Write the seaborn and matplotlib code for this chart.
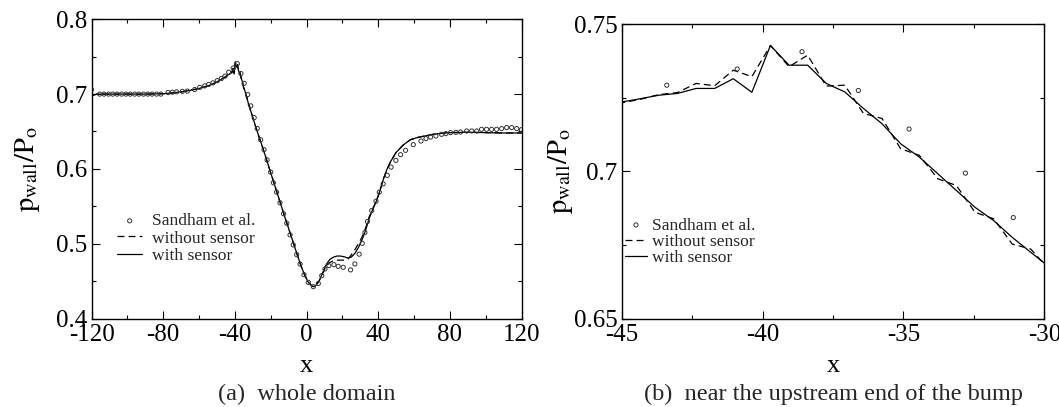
import matplotlib
matplotlib.use("Agg")
import matplotlib.pyplot as plt
import seaborn as sns
from matplotlib.ticker import MultipleLocator, FuncFormatter

# ---------------- data ----------------
# Sandham et al. reference points
sandham_x = [-120.0, -115.4, -113.0, -110.5, -108.1, -105.7, -103.2, -100.8, -98.4, -95.9,
             -93.5, -91.0, -88.6, -86.2, -83.7, -81.3, -77.3, -74.9, -72.5, -69.3,
             -66.5, -62.4, -59.6, -56.8, -54.6, -52.2, -49.8, -47.5, -45.5, -43.4,
             -40.9, -38.6, -36.6, -34.8, -32.8, -31.1, -29.2, -27.5, -25.6, -23.7,
             -22.0, -20.0, -18.5, -16.7, -14.8, -12.8, -11.0, -9.2, -7.4, -5.5,
             -3.6, -1.4, 1.0, 3.8, 6.6, 8.5, 10.3, 12.5, 15.3, 17.7,
             20.5, 24.6, 27.0, 29.4, 31.1, 32.6, 34.0, 36.4, 38.8, 40.6,
             42.8, 45.1, 47.2, 49.9, 52.5, 55.3, 59.6, 63.9, 66.7, 69.3,
             72.2, 75.4, 77.8, 80.4, 83.4, 86.0, 89.4, 92.2, 95.0, 97.7,
             100.5, 103.3, 106.1, 108.9, 111.7, 114.5, 117.3, 120.0]
sandham_y = [0.706, 0.700, 0.700, 0.700, 0.700, 0.700, 0.700, 0.700, 0.700, 0.700,
             0.700, 0.700, 0.700, 0.700, 0.700, 0.700, 0.7021, 0.7025, 0.7030, 0.7037,
             0.7040, 0.7061, 0.7090, 0.7110, 0.7130, 0.7150, 0.7180, 0.7209, 0.7240, 0.7293,
             0.7348, 0.7407, 0.7275, 0.7144, 0.6994, 0.6843, 0.6686, 0.6540, 0.6390, 0.6257,
             0.6120, 0.5957, 0.5815, 0.5689, 0.5547, 0.5400, 0.5273, 0.5118, 0.4984, 0.4854,
             0.4729, 0.4586, 0.4483, 0.4425, 0.4469, 0.4572, 0.4662, 0.4706, 0.4720, 0.4697,
             0.4684, 0.4650, 0.4730, 0.4860, 0.5005, 0.5150, 0.5296, 0.5444, 0.5568, 0.5689,
             0.5800, 0.5913, 0.6024, 0.6114, 0.6190, 0.6248, 0.6324, 0.6373, 0.6405, 0.6426,
             0.6440, 0.6462, 0.6472, 0.6485, 0.6489, 0.6493, 0.6507, 0.6507, 0.6507, 0.6529,
             0.6529, 0.6529, 0.6529, 0.6539, 0.6552, 0.6552, 0.6539, 0.6525]

# simulation grid (x/delta) and wall pressure for both runs
grid_x = [-120, -117, -110, -100, -90, -80, -75, -70, -65, -60, -55, -50, -47.5,
          -45.00, -44.34, -43.68, -43.02, -42.36, -41.70, -41.04, -40.38, -39.72, -39.06,
          -38.40, -37.74, -37.08, -36.42, -35.76, -35.10, -34.44, -33.78, -33.12, -32.46,
          -31.80, -31.14, -30.48, -29.82,
          -27, -24, -20, -16, -12, -8, -5, -3, -1, 1, 3, 4, 5, 7, 9, 11, 13, 15, 17, 19,
          21, 23, 25, 27, 29, 31, 33, 35, 37, 39, 41, 43, 45, 47, 50, 54, 58, 62, 66, 70,
          75, 80, 90, 100, 110, 120]
with_sensor = [0.698, 0.700, 0.700, 0.700, 0.700, 0.7005, 0.7015, 0.703, 0.705, 0.7075, 0.711, 0.716, 0.720,
               0.7236, 0.7247, 0.7259, 0.7265, 0.7282, 0.7282, 0.7315, 0.7269, 0.7428, 0.7361,
               0.7361, 0.7299, 0.7270, 0.7214, 0.7162, 0.7094, 0.7049, 0.6992, 0.6935, 0.6878,
               0.6833, 0.6776, 0.6725, 0.6675,
               0.6464, 0.6252, 0.595, 0.565, 0.535, 0.506, 0.484, 0.470, 0.458, 0.4485, 0.4435,
               0.4425, 0.4435, 0.450, 0.461, 0.472, 0.479, 0.482, 0.4835, 0.4835,
               0.4825, 0.481, 0.482, 0.487, 0.495, 0.505, 0.518, 0.534, 0.546, 0.557, 0.571,
               0.587, 0.600, 0.610, 0.622, 0.632, 0.639, 0.642, 0.644, 0.646,
               0.6475, 0.6485, 0.649, 0.6485, 0.648, 0.648]
without_sensor = [0.698, 0.700, 0.700, 0.700, 0.700, 0.7005, 0.7015, 0.703, 0.705, 0.7075, 0.711, 0.716, 0.720,
                  0.7233, 0.7245, 0.7261, 0.7268, 0.7299, 0.7291, 0.7344, 0.7322, 0.7428, 0.7356,
                  0.7395, 0.7290, 0.7293, 0.7197, 0.7180, 0.7077, 0.7055, 0.6975, 0.6952, 0.6861,
                  0.6839, 0.6753, 0.6736, 0.6665,
                  0.6464, 0.6252, 0.595, 0.565, 0.535, 0.506, 0.484, 0.470, 0.458, 0.4485, 0.4435,
                  0.4425, 0.4435, 0.450, 0.460, 0.470, 0.475, 0.477, 0.478, 0.478,
                  0.478, 0.479, 0.485, 0.492, 0.500, 0.509, 0.521, 0.536, 0.547, 0.557, 0.571,
                  0.587, 0.600, 0.610, 0.622, 0.632, 0.639, 0.642, 0.644, 0.646,
                  0.6475, 0.6485, 0.649, 0.6485, 0.648, 0.648]

xlabel = "x"
ylabel = r"$\mathrm{p_{wall}/P_o}$"
caption_a = "(a)  whole domain"
caption_b = "(b)  near the upstream end of the bump"

# ---------------- style ----------------
sns.set_theme(style="ticks")
plt.rcParams.update({
    "font.family": ["Liberation Serif", "DejaVu Serif"],
    "mathtext.fontset": "stix",
    "axes.unicode_minus": False,
    "lines.scale_dashes": False,
})

W, H = 1059, 407
fig = plt.figure(figsize=(W / 100, H / 100), dpi=100)
axA = fig.add_axes([91.5 / W, 1 - 318.5 / H, 430 / W, 299.2 / H])
axB = fig.add_axes([621.7 / W, 1 - 318.5 / H, 422.6 / W, 294.2 / H])

fmt = FuncFormatter(lambda v, p: f"{v:g}")

for ax in (axA, axB):
    sns.scatterplot(x=sandham_x, y=sandham_y, ax=ax, marker="o", s=9,
                    facecolor="none", edgecolor="#333333", linewidth=0.7,
                    label="Sandham et al.", zorder=3)
    sns.lineplot(x=grid_x, y=without_sensor, ax=ax, color="black", linewidth=0.9,
                 linestyle=(0, (5, 3)), label="without sensor", estimator=None, sort=False)
    sns.lineplot(x=grid_x, y=with_sensor, ax=ax, color="black", linewidth=0.9,
                 label="with sensor", estimator=None, sort=False)
    ax.tick_params(which="both", direction="in", top=True, right=True,
                   width=0.8, color="black", labelsize=18, labelcolor="black")
    ax.tick_params(which="major", length=5.5)
    ax.tick_params(which="minor", length=3.2)
    ax.tick_params(axis="x", pad=4)
    ax.tick_params(axis="y", pad=3)
    for s in ax.spines.values():
        s.set_linewidth(1.0)
        s.set_color("black")
    ax.xaxis.set_major_formatter(fmt)
    ax.yaxis.set_major_formatter(fmt)

axA.set_xlim(-120, 120)
axA.set_ylim(0.4, 0.8)
axA.xaxis.set_major_locator(MultipleLocator(40))
axA.xaxis.set_minor_locator(MultipleLocator(20))
axA.yaxis.set_major_locator(MultipleLocator(0.1))
axA.yaxis.set_minor_locator(MultipleLocator(0.05))

axB.set_xlim(-45, -30)
axB.set_ylim(0.65, 0.75)
axB.xaxis.set_major_locator(MultipleLocator(5))
axB.xaxis.set_minor_locator(MultipleLocator(2.5))
axB.yaxis.set_major_locator(MultipleLocator(0.05))
axB.yaxis.set_minor_locator(MultipleLocator(0.025))

for ax, xl, yl in ((axA, -0.179, -0.148), (axB, -0.182, -0.146)):
    ax.set_xlabel(xlabel, fontsize=19, color="black")
    ax.set_ylabel(ylabel, fontsize=20.5, color="black")
    ax.xaxis.set_label_coords(0.5, xl)
    ax.xaxis.label.set_va("baseline")
    ax.yaxis.set_label_coords(yl, 0.5)
    ax.yaxis.label.set_va("center")

axA.legend(loc="upper left", bbox_to_anchor=(0.0593, 0.352), frameon=False, fontsize=12.6,
           handlelength=1.45, handletextpad=0.55, labelspacing=0.05, borderpad=0,
           borderaxespad=0, scatterpoints=1)
axB.legend(loc="upper left", bbox_to_anchor=(0.0078, 0.344), frameon=False, fontsize=12.6,
           handlelength=1.25, handletextpad=0.28, labelspacing=0.0, borderpad=0,
           borderaxespad=0, scatterpoints=1)

fig.text(306.5 / W, 1 - 400 / H, caption_a, ha="center", va="baseline", fontsize=17.5)
fig.text(833 / W, 1 - 400 / H, caption_b, ha="center", va="baseline", fontsize=17.5)

fig.savefig("out.png", dpi=100)
